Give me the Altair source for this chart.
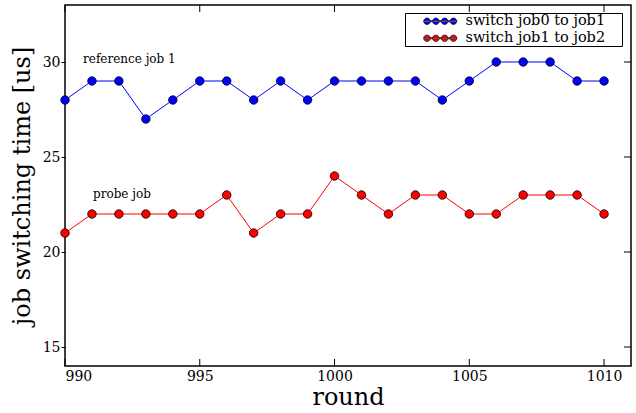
import altair as alt
import pandas as pd

rounds = [990, 991, 992, 993, 994, 995, 996, 997, 998, 999, 1000,
          1001, 1002, 1003, 1004, 1005, 1006, 1007, 1008, 1009, 1010]
job0_to_job1 = [28, 29, 29, 27, 28, 29, 29, 28, 29, 28, 29,
                29, 29, 29, 28, 29, 30, 30, 30, 29, 29]
job1_to_job2 = [21, 22, 22, 22, 22, 22, 23, 21, 22, 22, 24,
                23, 22, 23, 23, 22, 22, 23, 23, 23, 22]
series_names = ["switch job0 to job1", "switch job1 to job2"]
series_colors = ["#0000ff", "#ff0000"]
x_ticks = [990, 995, 1000, 1005, 1010]
y_ticks = [15, 20, 25, 30]
annot_text = ["reference job 1", "probe job"]
annot_x = [990.67, 991.04]
annot_y = [29.95, 22.86]

W, H = 566, 361
FONT = "DejaVu Serif"

rows = []
for name, vals in zip(series_names, [job0_to_job1, job1_to_job2]):
    for r, v in zip(rounds, vals):
        rows.append({"round": r, "time": v, "series": name})
df = pd.DataFrame(rows)
xt = pd.DataFrame({"round": x_ticks})
yt = pd.DataFrame({"time": y_ticks})
ann = pd.DataFrame({"round": annot_x, "time": annot_y, "label": annot_text})

xscale = alt.Scale(domain=[990, 1011], nice=False, zero=False)
yscale = alt.Scale(domain=[14, 33], nice=False, zero=False)
xenc = alt.X("round:Q", scale=xscale,
             axis=alt.Axis(values=x_ticks, tickSize=0, grid=False, domain=False,
                           labelPadding=3, format="d", title="round", titlePadding=2))
yenc = alt.Y("time:Q", scale=yscale,
             axis=alt.Axis(values=y_ticks, tickSize=4, grid=False, domain=False,
                           labelPadding=1, title="job switching time [us]",
                           titlePadding=8))

# legend symbol: thin line with four dots (plus an invisible point widening the box)
def circ(cx, r):
    return (f"M{cx - r},0 A{r},{r} 0 1,0 {cx + r},0 A{r},{r} 0 1,0 {cx - r},0 Z ")
sym = ("M-3,-0.09 L3,-0.09 L3,0.09 L-3,0.09 Z " + "".join(
    circ(c, 0.6) for c in [-2.4, -0.8, 0.8, 2.4]) + "M32.6,0 L32.6,0")

line_layers = []
for name, col in zip(series_names, series_colors):
    line_layers.append(
        alt.Chart(df).transform_filter(alt.datum.series == name)
        .mark_line(strokeWidth=1, color=col).encode(x=xenc, y=yenc)
    )

points = alt.Chart(df).mark_point(filled=True, size=72, stroke="black",
                                  strokeWidth=0.8, opacity=1, shape="circle").encode(
    x=xenc, y=yenc,
    fill=alt.Fill("series:N", scale=alt.Scale(domain=series_names, range=series_colors),
                  legend=alt.Legend(title=None, orient="none", legendX=340, legendY=8,
                                    symbolType=sym, symbolSize=121,
                                    symbolStrokeColor="black", symbolStrokeWidth=0.6,
                                    strokeColor="black", fillColor="white",
                                    padding=1, cornerRadius=0, rowPadding=2,
                                    symbolOffset=27, labelOffset=18,
                                    labelFont=FONT, labelFontSize=14.5, labelColor="black")),
)
bot_ticks = alt.Chart(xt).mark_rule(color="black", strokeWidth=1).encode(
    x=alt.X("round:Q", scale=xscale), y=alt.value(H), y2=alt.value(H - 7))
top_ticks = alt.Chart(xt).mark_rule(color="black", strokeWidth=1).encode(
    x=alt.X("round:Q", scale=xscale), y=alt.value(0), y2=alt.value(7))
right_ticks = alt.Chart(yt).mark_rule(color="black", strokeWidth=1).encode(
    y=alt.Y("time:Q", scale=yscale), x=alt.value(W), x2=alt.value(W - 7))
texts = alt.Chart(ann).mark_text(align="left", baseline="alphabetic", font=FONT,
                                 fontSize=12, color="black").encode(
    x=alt.X("round:Q", scale=xscale), y=alt.Y("time:Q", scale=yscale), text="label:N")

chart = alt.layer(*line_layers, points, bot_ticks, top_ticks, right_ticks, texts).properties(
    width=W, height=H,
    autosize=alt.AutoSizeParams(type="none"),
    padding={"left": 65, "top": 5, "right": 5, "bottom": 47},
    background="white",
).configure_view(stroke="black", strokeWidth=1.5).configure_axis(
    labelFont=FONT, labelFontSize=14, labelColor="black",
    titleFont=FONT, titleFontSize=24, titleFontWeight="normal", titleColor="black",
    tickColor="black",
)

chart.save("out.html", embed_options={"renderer": "svg", "actions": False})
